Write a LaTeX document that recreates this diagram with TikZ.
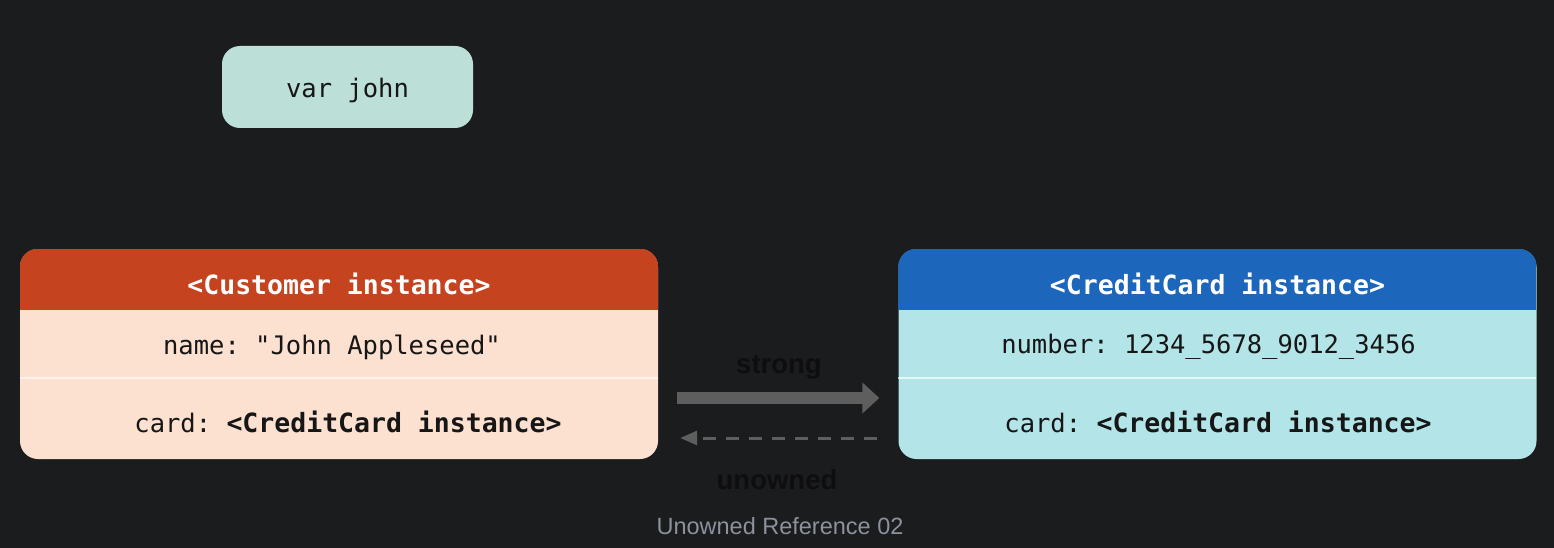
\documentclass[tikz,border=0pt]{standalone}
\usepackage{fontspec}
\setmainfont{Liberation Sans}
\newfontfamily\codefont{DejaVu Sans Mono}
\usetikzlibrary{arrows.meta}

\definecolor{bgcol}{HTML}{1B1C1E}
\definecolor{varfill}{HTML}{BCDFD8}
\definecolor{custhead}{HTML}{C5431F}
\definecolor{custbody}{HTML}{FCE1D0}
\definecolor{custline}{HTML}{FFF2EB}
\definecolor{cardhead}{HTML}{1C66BB}
\definecolor{cardbody}{HTML}{B3E5E8}
\definecolor{cardline}{HTML}{E6F7F8}
\definecolor{arrowgray}{HTML}{5E5E5E}
\definecolor{labelcol}{HTML}{0E0E0F}
\definecolor{captioncol}{HTML}{8C919B}
\definecolor{codeink}{HTML}{161616}

\newcommand{\boldcode}[1]{{\bfseries\fontsize{26.5}{30}\selectfont #1}}

\begin{document}
\frenchspacing
\begin{tikzpicture}[x=1pt,y=-1pt,
  varbox/.style={rounded corners=18pt, fill=varfill, inner sep=0pt,
    minimum width=251pt, minimum height=82pt},
  objbox/.style={rounded corners=18pt, inner sep=0pt,
    minimum width=638pt, minimum height=210pt},
  headtext/.style={text=white, font=\codefont\bfseries\fontsize{26.5}{30}\selectfont},
  rowtext/.style={text=codeink, font=\codefont\fontsize{25.5}{30}\selectfont},
  reflabel/.style={text=labelcol, font=\bfseries\fontsize{27.5}{32}\selectfont},
  strongref/.style={draw=arrowgray, line width=12pt,
    -{Triangle[length=17pt,width=30pt]}},
  unownedref/.style={draw=arrowgray, line width=3pt, dash pattern=on 13pt off 10pt,
    -{Triangle[length=17pt,width=14pt]}},
]
\fill[bgcol] (0,0) rectangle (1554,548);
\useasboundingbox (0,0) rectangle (1554,548);

% the variable
\node[varbox] (john) at (347.5,87) {};
\node[rowtext] (johntext) at (347.5,90) {var john};

% Customer instance
\node[objbox, fill=custbody] (cust) at (339,354) {};
\begin{scope}
  \clip[rounded corners=18pt] (cust.north west) rectangle (cust.south east);
  \fill[custhead] (cust.north west) rectangle ([yshift=-61pt]cust.north east);
  \draw[custline, line width=2pt] ([yshift=-129pt]cust.north west) -- ([yshift=-129pt]cust.north east);
\end{scope}
\node[headtext] (custtitle) at (339,284) {<Customer instance>};
\node[rowtext] (custname) at (332,347) {name: "John Appleseed"};
\node[rowtext] (custcard) at (348,422) {card: \boldcode{<CreditCard instance>}};

% CreditCard instance
\node[objbox, fill=cardbody] (card) at (1217.5,354) {};
\begin{scope}
  \clip[rounded corners=18pt] (card.north west) rectangle (card.south east);
  \fill[cardhead] (card.north west) rectangle ([yshift=-61pt]card.north east);
  \draw[cardline, line width=2pt] ([yshift=-129pt]card.north west) -- ([yshift=-129pt]card.north east);
\end{scope}
\node[headtext] (cardtitle) at (1217.5,284) {<CreditCard instance>};
\node[rowtext] (cardnumber) at (1208.5,347) {number: 1234\_5678\_9012\_3456};
\node[rowtext] (cardcard) at (1218,422) {card: \boldcode{<CreditCard instance>}};

% references
\draw[strongref, shorten <=19pt, shorten >=19pt]
  ([yshift=-44pt]cust.east) -- ([yshift=-44pt]card.west);
\draw[unownedref, shorten <=21pt, shorten >=22pt]
  ([yshift=-84pt]card.west) -- ([yshift=-84pt]cust.east);
\node[reflabel] (stronglbl) at (779,367) {strong};
\node[reflabel] (unownedlbl) at (777,480) {unowned};

% caption
\node[text=captioncol, font=\fontsize{23.5}{28}\selectfont] (caption) at (780,526) {Unowned Reference 02};
\end{tikzpicture}
\end{document}
